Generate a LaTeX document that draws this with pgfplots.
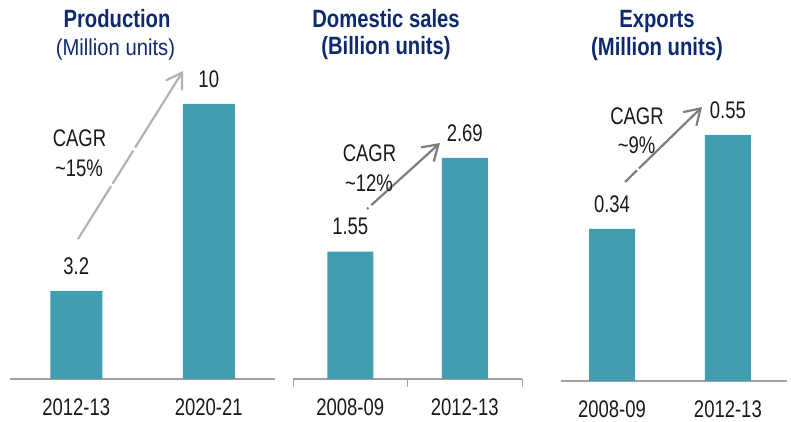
\documentclass[border=0pt]{standalone}
\usepackage{fontspec}
\setmainfont{Liberation Sans}[FakeStretch=0.77]
\newfontfamily\titlefont{Liberation Sans}[FakeStretch=0.81]
\newfontfamily\subfont{Liberation Sans}[FakeStretch=0.88]
\usepackage{pgfplots}
\pgfplotsset{compat=1.18}
\usetikzlibrary{arrows.meta}
\definecolor{barc}{RGB}{65,158,176}
\definecolor{navy}{RGB}{14,42,110}
\definecolor{axc}{RGB}{160,160,160}
\definecolor{arl}{RGB}{178,178,178}
\definecolor{ard}{RGB}{125,125,125}
\definecolor{txt}{RGB}{26,26,26}
\newcommand{\lab}{\fontsize{24}{28}\selectfont}
\newcommand{\ttl}{\titlefont\bfseries\fontsize{25}{30}\selectfont}
\pgfplotsset{
  panel/.style={
    scale only axis, anchor=south west,
    ymin=0, axis y line=none, axis x line*=bottom,
    x axis line style={axc, line width=1.2pt},
    xtick={0,1}, major tick length=0pt,
    xticklabel style={font=\lab, text=txt, yshift=-16pt},
    ybar, bar shift=0pt,
    nodes near coords, point meta=explicit symbolic,
    every node near coord/.append style={font=\lab, text=txt, anchor=center, yshift=25pt},
    clip=false, enlargelimits=false,
  }
}
\begin{document}
\begin{tikzpicture}[x=1pt,y=1pt]
\useasboundingbox (0,0) rectangle (791,422);
% Panel 1: Production
\begin{axis}[panel, at={(10pt,43pt)}, width=265pt, height=275pt,
  xmin=-0.5, xmax=1.5, ymax=10, bar width=52pt,
  xticklabels={2012-13,2020-21}]
\addplot[fill=barc, draw=none] coordinates {(0,3.2) [3.2] (1,10) [10]};
\end{axis}
% Panel 2: Domestic sales
\begin{axis}[panel, at={(293pt,43pt)}, width=229pt, height=246.6pt,
  xmin=-0.5, xmax=1.5, ymax=3, bar width=46pt,
  xticklabels={2008-09,2012-13},
  extra x ticks={-0.5,0.5,1.5}, extra x tick labels={},
  extra x tick style={major tick length=8pt, tick align=outside,
    tick style={axc, line width=1pt}}]
\addplot[fill=barc, draw=none] coordinates {(0,1.55) [1.55] (1,2.69) [2.69]};
\end{axis}
% Panel 3: Exports
\begin{axis}[panel, at={(561pt,41pt)}, width=226pt, height=268.5pt,
  xmin=-0.44, xmax=1.51, ymax=0.6, bar width=46pt,
  xticklabels={2008-09,2012-13}]
\addplot[fill=barc, draw=none] coordinates {(0,0.34) [0.34] (1,0.55) [0.55]};
\end{axis}
% arrows
\draw[arl, line width=2.2pt] (78,183) -- (111.1,235.9);
\draw[arl, line width=2.2pt] (112.6,238.3) -- (133.2,271.3);
\draw[arl, line width=2.2pt, -{Straight Barb[length=15pt,width=19pt]}] (135.1,274.4) -- (183,351);
\draw[ard, line width=2.2pt] (367,213) -- (368.46,214.32);
\draw[ard, line width=2.2pt, -{Straight Barb[length=15pt,width=19pt]}] (371.38,216.96) -- (440,279);
\draw[ard, line width=2.2pt] (625,240) -- (637.0,251.7);
\draw[ard, line width=2.2pt, -{Straight Barb[length=15pt,width=19pt]}] (638.86,253.5) -- (702,315);
% CAGR texts
\node[font=\lab, text=txt, anchor=base, inner sep=0pt] at (79.5,275) {CAGR};
\node[font=\lab, text=txt, anchor=base, inner sep=0pt] at (79,245) {\textasciitilde15\%};
\node[font=\lab, text=txt, anchor=base, inner sep=0pt] at (369.5,260.3) {CAGR};
\node[font=\lab, text=txt, anchor=base, inner sep=0pt] at (369,230.3) {\textasciitilde12\%};
\node[font=\lab, text=txt, anchor=base, inner sep=0pt] at (637,297) {CAGR};
\node[font=\lab, text=txt, anchor=base, inner sep=0pt] at (636.5,268.7) {\textasciitilde9\%};
% titles
\node[font=\ttl, text=navy, anchor=base, inner sep=0pt] at (117,394) {Production};
\node[font=\subfont\fontsize{23}{27}\selectfont, text=navy, anchor=base, inner sep=0pt] at (115.5,366) {(Million units)};
\node[font=\ttl, text=navy, anchor=base, inner sep=0pt] at (386,394) {Domestic sales};
\node[font=\ttl, text=navy, anchor=base, inner sep=0pt] at (386,367) {(Billion units)};
\node[font=\ttl, text=navy, anchor=base, inner sep=0pt] at (657,394) {Exports};
\node[font=\ttl, text=navy, anchor=base, inner sep=0pt] at (657,366) {(Million units)};
\end{tikzpicture}
\end{document}
